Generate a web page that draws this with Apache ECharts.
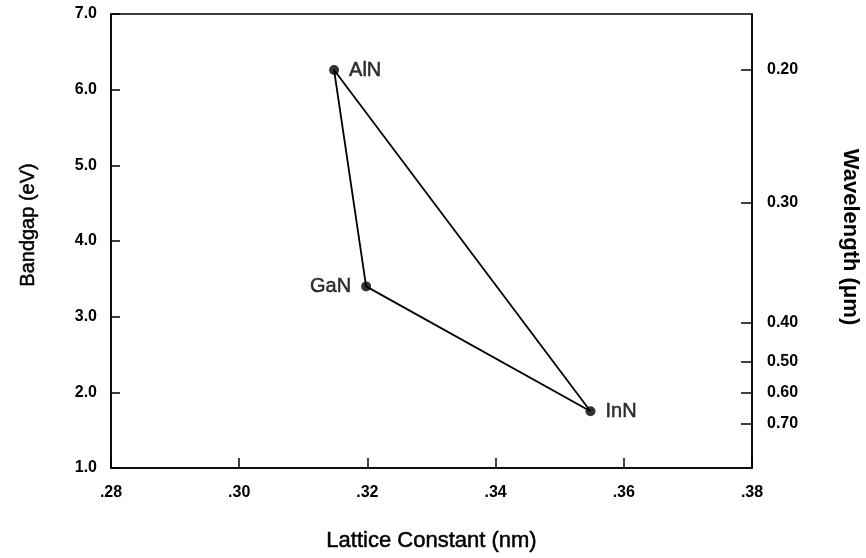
<!DOCTYPE html>
<html>
<head>
<meta charset="utf-8">
<script src="https://cdn.jsdelivr.net/npm/echarts@6/dist/echarts.min.js"></script>
<style>
  html, body { margin: 0; padding: 0; background: #fff; }
  #chart { width: 866px; height: 558px; }
</style>
</head>
<body>
<div id="chart"></div>
<script>
// III-nitride compounds: lattice constant (nm) vs bandgap (eV)
const materials = ['AlN', 'GaN', 'InN'];
const latticeConstant = [0.3148, 0.3198, 0.3548];
const bandgap = [6.26, 3.40, 1.75];

// Right-hand wavelength scale: labels and the bandgap value each tick sits at
const wavelengthLabels = ['0.20', '0.30', '0.40', '0.50', '0.60', '0.70'];
const wavelengthAtBandgap = [6.26, 4.51, 2.92, 2.40, 1.99, 1.59];

// Closed outline AlN -> GaN -> InN -> AlN
const outlineOrder = [0, 1, 2, 0];

const FONT = '"Liberation Sans", Arial, Helvetica, sans-serif';
const labelPos = { AlN: 'right', GaN: 'left', InN: 'right' };

const chart = echarts.init(document.getElementById('chart'), null, { renderer: 'canvas' });

const lineData = outlineOrder.map(i => [latticeConstant[i], bandgap[i]]);
const pointData = materials.map((m, i) => ({
  value: [latticeConstant[i], bandgap[i]],
  name: m,
  label: { position: labelPos[m] }
}));

const tickLabel = { fontFamily: FONT, fontSize: 16, fontWeight: 'bold', color: '#000' };
// slightly heavier regular-weight text
const heavy = { textBorderColor: '#000', textBorderWidth: 0.5 };

chart.setOption({
  animation: false,
  backgroundColor: '#fff',
  grid: {
    left: 111, right: 114, top: 14, bottom: 90,
    show: true, borderColor: '#000', borderWidth: 1.5
  },
  xAxis: {
    type: 'value', min: 0.28, max: 0.38, interval: 0.02,
    name: 'Lattice Constant (nm)', nameLocation: 'middle', nameGap: 62,
    nameTextStyle: Object.assign({ fontFamily: FONT, fontSize: 22, color: '#000' }, heavy),
    axisLine: { show: true, lineStyle: { color: '#000', width: 1.5 } },
    axisTick: { show: true, inside: true, length: 10, lineStyle: { color: '#000', width: 1.5 } },
    axisLabel: Object.assign({
      margin: 17,
      formatter: v => v.toFixed(2).replace(/^0/, '')
    }, tickLabel),
    splitLine: { show: false }
  },
  yAxis: [
    {
      type: 'value', min: 1, max: 7, interval: 1, position: 'left',
      axisLine: { show: true, lineStyle: { color: '#000', width: 1.5 } },
      axisTick: { show: true, inside: true, length: 9, lineStyle: { color: '#000', width: 1.5 } },
      axisLabel: Object.assign({
        margin: 14,
        formatter: v => v.toFixed(1)
      }, tickLabel),
      splitLine: { show: false }
    },
    {
      type: 'value', min: 1, max: 7, position: 'right',
      axisLine: { show: true, lineStyle: { color: '#000', width: 1.5 } },
      axisTick: {
        show: true, inside: true, length: 11,
        customValues: wavelengthAtBandgap,
        lineStyle: { color: '#000', width: 1.5 }
      },
      axisLabel: Object.assign({
        margin: 15,
        customValues: wavelengthAtBandgap,
        formatter: v => {
          const k = wavelengthAtBandgap.findIndex(e => Math.abs(e - v) < 1e-6);
          return k >= 0 ? wavelengthLabels[k] : '';
        }
      }, tickLabel),
      splitLine: { show: false }
    }
  ],
  graphic: [
    {
      type: 'text', x: 28, y: 225, rotation: Math.PI / 2,
      style: Object.assign({
        text: 'Bandgap (eV)', fontFamily: FONT, fontSize: 20, fill: '#000',
        align: 'center', verticalAlign: 'middle'
      }, { stroke: '#000', lineWidth: 0.5 })
    },
    {
      type: 'text', x: 850, y: 237, rotation: -Math.PI / 2,
      style: {
        text: 'Wavelength (\u03bcm)', fontFamily: FONT, fontSize: 22, fontWeight: 'bold', fill: '#000',
        align: 'center', verticalAlign: 'middle'
      }
    }
  ],
  series: [
    {
      type: 'line', data: lineData, yAxisIndex: 0,
      symbol: 'none', silent: true,
      lineStyle: { color: '#000', width: 1.8 }
    },
    {
      type: 'scatter', data: pointData, yAxisIndex: 0,
      symbol: 'circle', symbolSize: 10,
      itemStyle: { color: '#000' },
      label: Object.assign({
        show: true, formatter: p => p.name, distance: 10,
        fontFamily: FONT, fontSize: 20, color: '#000'
      }, heavy)
    }
  ]
});
</script>
</body>
</html>
